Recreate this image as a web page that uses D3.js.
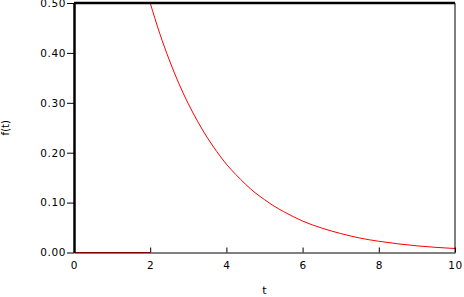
<!DOCTYPE html>
<html><head><meta charset="utf-8">
<script src="https://cdn.jsdelivr.net/npm/d3@7"></script>
<style>body{margin:0;background:#fff}svg{display:block}text{font-family:"DejaVu Sans",sans-serif;fill:#000}</style>
</head><body>
<script>
const xTicks = [0, 2, 4, 6, 8, 10];
const yTicks = [0, 0.1, 0.2, 0.3, 0.4, 0.5];
const tZero = [0, 2];
const fZero = [0, 0];
const tDecay = [2.0, 2.25, 2.5, 2.75, 3.0, 3.25, 3.5, 3.75, 4.0, 4.25, 4.5, 4.75, 5.0, 5.25, 5.5, 5.75, 6.0, 6.5, 7.0, 7.5, 8.0, 8.5, 9.0, 9.5, 10.0];
const fDecay = [0.500, 0.439, 0.386, 0.339, 0.298, 0.262, 0.230, 0.202, 0.177, 0.156, 0.137, 0.120, 0.106, 0.093, 0.082, 0.072, 0.063, 0.049, 0.038, 0.029, 0.0225, 0.0174, 0.0134, 0.0103, 0.0080];

const W = 464, H = 297;
const L = 74, R = 455, T = 3, B = 252.5;
const svg = d3.select("body").append("svg").attr("width", W).attr("height", H);
const x = d3.scaleLinear().domain([0, 10]).range([L, R]);
const y = d3.scaleLinear().domain([0, 0.5]).range([B, T]);

const line = d3.line().x(d => x(d[0])).y(d => y(d[1]));
svg.append("path").datum(tZero.map((t, i) => [t, fZero[i]]))
  .attr("d", line).attr("fill", "none").attr("stroke", "#ff0000").attr("stroke-width", 1);
svg.append("path").datum(tDecay.map((t, i) => [t, fDecay[i]]))
  .attr("d", d3.line().curve(d3.curveMonotoneX).x(d => x(d[0])).y(d => y(d[1])))
  .attr("fill", "none").attr("stroke", "#ff0000").attr("stroke-width", 1);

// frame
svg.append("line").attr("x1", L).attr("x2", R).attr("y1", 3).attr("y2", 3).attr("stroke", "#000").attr("stroke-width", 2.5);
svg.append("line").attr("x1", R).attr("x2", R).attr("y1", T).attr("y2", B).attr("stroke", "#000").attr("stroke-width", 1);

// x axis
const xa = svg.append("g").attr("transform", `translate(0,${B})`)
  .call(d3.axisBottom(x).tickValues(xTicks).tickSizeInner(-5).tickSizeOuter(0).tickPadding(9).tickFormat(d3.format("d")));
xa.select(".domain").attr("stroke-width", 1);
xa.selectAll("text").attr("font-size", 10.5).style("letter-spacing", "0.6px");

// y axis
const ya = svg.append("g").attr("transform", `translate(${L},0)`)
  .call(d3.axisLeft(y).tickValues(yTicks).tickSizeInner(7).tickSizeOuter(0).tickPadding(1).tickFormat(d3.format(".2f")));
ya.select(".domain").attr("stroke-width", 2.5);
ya.selectAll("text").attr("font-size", 10.5).style("letter-spacing", "0.6px");
ya.selectAll(".tick line").attr("stroke-width", 1);

svg.append("text").attr("x", (L + R) / 2).attr("y", 294).attr("text-anchor", "middle").attr("font-size", 11).text("t");
svg.append("text").attr("transform", `translate(9,${(T + B) / 2}) rotate(-90)`).attr("text-anchor", "middle").attr("font-size", 10).text("f(t)");
</script>
</body></html>
